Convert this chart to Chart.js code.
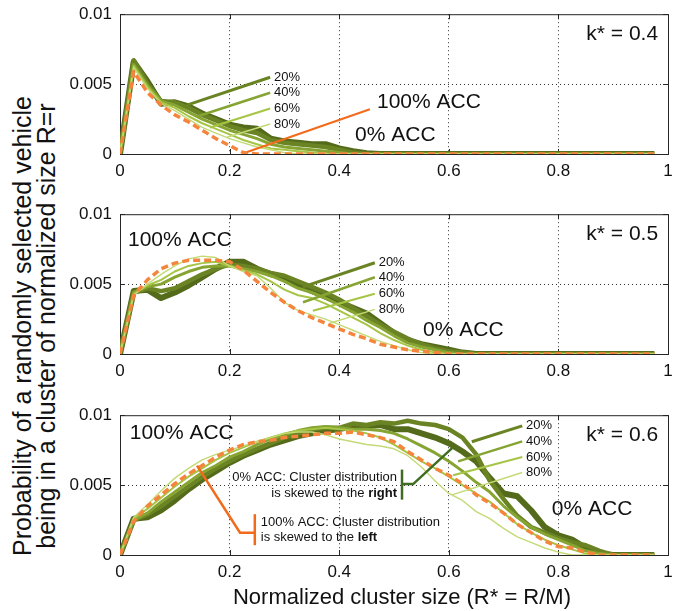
<!DOCTYPE html>
<html>
<head>
<meta charset="utf-8">
<title>Cluster size distribution</title>
<script src="https://cdn.jsdelivr.net/npm/chart.js@4.4.0/dist/chart.umd.min.js"></script>
<style>
  body { margin: 0; background: #fff; }
  #figure { position: relative; width: 690px; height: 611px; overflow: hidden; background: #fff; }
  #figure canvas { position: absolute; left: 0; }
  .axis-title { position: absolute; font-family: 'Liberation Sans', Arial, sans-serif; color: #111; text-align: center; white-space: nowrap; }
  #yTitle { left: -226px; top: 302px; width: 520px; height: 48px; font-size: 25px; line-height: 24px; transform: rotate(-90deg); }
  #xTitle { left: 102px; top: 584px; width: 600px; font-size: 22px; line-height: 26px; }
</style>
</head>
<body>
<div id="figure">
  <div id="yTitle" class="axis-title">Probability of a randomly selected vehicle<br>being in a cluster of normalized size R=r</div>
  <canvas id="panel04" width="690" height="189" style="top:-4px"></canvas>
  <canvas id="panel05" width="690" height="189" style="top:196px"></canvas>
  <canvas id="panel06" width="690" height="189" style="top:397px"></canvas>
  <div id="xTitle" class="axis-title">Normalized cluster size (R* = R/M)</div>
</div>

<script>
const FONT = "'Liberation Sans', Arial, sans-serif";

// normalized cluster size R* shared by every curve
const clusterSize = [0, 0.025, 0.05, 0.075, 0.1, 0.125, 0.15, 0.175, 0.2, 0.225,
  0.25, 0.275, 0.3, 0.325, 0.35, 0.375, 0.4, 0.425, 0.45, 0.475,
  0.5, 0.525, 0.55, 0.575, 0.6, 0.625, 0.65, 0.675, 0.7, 0.725,
  0.75, 0.775, 0.8, 0.825, 0.85, 0.875, 0.9, 0.925, 0.95, 0.975];

// k* = 0.4
const k04_acc0 = [0, .0066, .0052, .0036, .0037, .0034, .0029, .0025, .0021, .0019,
  .0018, .0011, .0009, .0008, .0007, .0007, .0004, .0002, .00005, 0,
  0, 0, 0, 0, 0, 0, 0, 0, 0, 0,
  0, 0, 0, 0, 0, 0, 0, 0, 0, 0];
const k04_acc20 = [0, .0067, .0050, .0038, .0037, .0033, .0028, .0024, .0020, .0017,
  .0015, .0010, .0008, .0007, .0006, .0005, .0003, .0001, 0, 0,
  0, 0, 0, 0, 0, 0, 0, 0, 0, 0,
  0, 0, 0, 0, 0, 0, 0, 0, 0, 0];
const k04_acc40 = [0, .0064, .0049, .0038, .0035, .0030, .0025, .0021, .0017, .0014,
  .0011, .0007, .0005, .0004, .0003, .0002, .0001, 0, 0, 0,
  0, 0, 0, 0, 0, 0, 0, 0, 0, 0,
  0, 0, 0, 0, 0, 0, 0, 0, 0, 0];
const k04_acc60 = [0, .0063, .0048, .0037, .0033, .0027, .0022, .0018, .0014, .0010,
  .0007, .0004, .0003, .0002, .0001, 0, 0, 0, 0, 0,
  0, 0, 0, 0, 0, 0, 0, 0, 0, 0,
  0, 0, 0, 0, 0, 0, 0, 0, 0, 0];
const k04_acc80 = [0, .0062, .0047, .0036, .0031, .0025, .0019, .0015, .0011, .0008,
  .0005, .0003, .0001, 0, 0, 0, 0, 0, 0, 0,
  0, 0, 0, 0, 0, 0, 0, 0, 0, 0,
  0, 0, 0, 0, 0, 0, 0, 0, 0, 0];
const k04_acc100 = [0, .0059, .0044, .0035, .0028, .0023, .0017, .0011, .0006, .0001,
  0, 0, 0, 0, 0, 0, 0, 0, 0, 0,
  0, 0, 0, 0, 0, 0, 0, 0, 0, 0,
  0, 0, 0, 0, 0, 0, 0, 0, 0, 0];

// k* = 0.5
const k05_acc0 = [0, .0045, .0046, .0040, .0044, .0049, .0055, .0061, .0066, .0066,
  .0061, .0057, .0055, .0050, .0045, .0041, .0037, .0033, .0029, .0022,
  .0015, .0010, .0007, .0005, .0003, .0001, 0, 0, 0, 0,
  0, 0, 0, 0, 0, 0, 0, 0, 0, 0];
const k05_acc20 = [0, .0044, .0047, .0045, .0047, .0052, .0057, .0061, .0064, .0063,
  .0061, .0058, .0056, .0052, .0048, .0044, .0039, .0033, .0027, .0021,
  .0016, .0011, .0007, .0004, .0002, .0001, 0, 0, 0, 0,
  0, 0, 0, 0, 0, 0, 0, 0, 0, 0];
const k05_acc40 = [0, .0044, .0048, .0050, .0055, .0059, .0062, .0063, .0063, .0061,
  .0059, .0056, .0052, .0047, .0044, .0040, .0035, .0030, .0024, .0019,
  .0013, .0008, .0005, .0003, .0001, 0, 0, 0, 0, 0,
  0, 0, 0, 0, 0, 0, 0, 0, 0, 0];
const k05_acc60 = [0, .0043, .0049, .0053, .0059, .0063, .0065, .0066, .0063, .0060,
  .0057, .0052, .0046, .0042, .0040, .0036, .0031, .0026, .0021, .0015,
  .0010, .0006, .0003, .0001, 0, 0, 0, 0, 0, 0,
  0, 0, 0, 0, 0, 0, 0, 0, 0, 0];
const k05_acc80 = [0, .0042, .0050, .0057, .0063, .0068, .0070, .0069, .0063, .0059,
  .0056, .0047, .0037, .0031, .0028, .0025, .0021, .0017, .0013, .0009,
  .0006, .0003, .0001, 0, 0, 0, 0, 0, 0, 0,
  0, 0, 0, 0, 0, 0, 0, 0, 0, 0];
const k05_acc100 = [0, .0042, .0053, .0061, .0065, .0067, .0067, .0067, .0066, .0060,
  .0052, .0044, .0037, .0031, .0026, .0022, .0018, .0014, .0011, .0007,
  .0005, .0003, .0002, .0001, 0, 0, 0, 0, 0, 0,
  0, 0, 0, 0, 0, 0, 0, 0, 0, 0];

// k* = 0.6
const k06_acc0 = [0, .0026, .0027, .0032, .0039, .0047, .0054, .0060, .0066, .0071,
  .0075, .0079, .0082, .0085, .0087, .0089, .0090, .0092, .0092, .0093,
  .0090, .0090, .0087, .0084, .0080, .0074, .0067, .0055, .0044, .0042,
  .0032, .0020, .0014, .0011, .0005, .0001, 0, 0, 0, 0];
const k06_acc20 = [0, .0025, .0029, .0035, .0042, .0049, .0056, .0062, .0067, .0072,
  .0076, .0080, .0084, .0087, .0090, .0091, .0091, .0094, .0093, .0095,
  .0094, .0096, .0094, .0093, .0090, .0084, .0072, .0053, .0040, .0028,
  .0020, .0016, .0012, .0009, .0007, .0003, 0, 0, 0, 0];
const k06_acc40 = [0, .0025, .0030, .0038, .0045, .0052, .0059, .0064, .0070, .0074,
  .0079, .0083, .0086, .0089, .0091, .0092, .0091, .0090, .0090, .0089,
  .0087, .0083, .0078, .0073, .0067, .0060, .0052, .0045, .0035, .0027,
  .0020, .0015, .0011, .0007, .0003, .0001, 0, 0, 0, 0];
const k06_acc60 = [0, .0026, .0033, .0041, .0049, .0056, .0062, .0068, .0073, .0077,
  .0081, .0084, .0087, .0089, .0090, .0091, .0090, .0089, .0087, .0084,
  .0079, .0073, .0067, .0062, .0056, .0050, .0044, .0038, .0030, .0022,
  .0016, .0011, .0007, .0004, .0001, 0, 0, 0, 0, 0];
const k06_acc80 = [0, .0027, .0036, .0046, .0055, .0062, .0068, .0072, .0075, .0078,
  .0081, .0084, .0087, .0088, .0088, .0086, .0083, .0081, .0079, .0078,
  .0076, .0071, .0063, .0053, .0044, .0039, .0031, .0026, .0019, .0013,
  .0009, .0005, .0002, 0, 0, 0, 0, 0, 0, 0];
const k06_acc100 = [0, .0024, .0035, .0043, .0051, .0058, .0064, .0070, .0075, .0079,
  .0081, .0082, .0084, .0085, .0086, .0087, .0087, .0088, .0086, .0084,
  .0081, .0074, .0068, .0062, .0057, .0051, .0043, .0037, .0030, .0022,
  .0016, .0010, .0006, .0005, .0002, 0, 0, 0, 0, 0];

// ACC penetration of each curve, listed bottom layer first
const accShares = ['0% ACC', '20%', '40%', '60%', '80%', '100% ACC'];
const xTicks = [0, 0.2, 0.4, 0.6, 0.8, 1];
const yTicks = [0, 0.005, 0.01];

// line look per ACC share (same order as accShares)
const lineStyles = [
  { color: '#556b1c', width: 6 },
  { color: '#6a8424', width: 4.5 },
  { color: '#86a432', width: 3 },
  { color: '#a6c545', width: 2 },
  { color: '#c3da75', width: 1.4 },
  { color: '#f5843c', width: 3.5, dash: [7, 4] }
];
const ORANGE = '#f26a1b';
const DARK_GREEN = '#3f6d22';

// thin leader from a curve to its percentage tag
function shareTags(anchors, tipX, tagYs) {
  const lines = anchors.map((p, i) => ({
    color: lineStyles[i + 1].color,
    width: [3, 2.5, 2, 1.5][i],
    path: [p, [tipX, tagYs[i]]]
  }));
  const texts = tagYs.map((y, i) => ({ text: accShares[i + 1], x: tipX + 0.007, y: y, size: 13 }));
  return { lines, texts };
}

const tags04 = shareTags([[0.122, 0.0035], [0.142, 0.0027], [0.164, 0.0019], [0.195, 0.0012]],
  0.274, [0.00549, 0.00438, 0.00326, 0.00215]);
const tags05 = shareTags([[0.334, 0.0048], [0.334, 0.0037], [0.352, 0.0031], [0.383, 0.0022]],
  0.465, [0.00653, 0.00549, 0.00431, 0.00319]);
const tags06 = shareTags([[0.642, 0.0081], [0.617, 0.0067], [0.608, 0.0057], [0.606, 0.0043]],
  0.734, [0.00924, 0.00813, 0.00701, 0.0059]);

const panels = [
  {
    id: 'panel04',
    series: [k04_acc0, k04_acc20, k04_acc40, k04_acc60, k04_acc80, k04_acc100],
    notes: {
      lines: tags04.lines.concat([
        { color: ORANGE, width: 2, path: [[0.232, 0.00014], [0.456, 0.0032]] }
      ]),
      texts: tags04.texts.concat([
        { text: '100% ACC', x: 0.469, y: 0.00368, size: 21 },
        { text: '0% ACC', x: 0.429, y: 0.00132, size: 21 },
        { text: 'k* = 0.4', x: 0.982, y: 0.0086, size: 21, align: 'right' }
      ])
    }
  },
  {
    id: 'panel05',
    series: [k05_acc0, k05_acc20, k05_acc40, k05_acc60, k05_acc80, k05_acc100],
    notes: {
      lines: tags05.lines,
      texts: tags05.texts.concat([
        { text: '100% ACC', x: 0.0146, y: 0.00813, size: 21 },
        { text: '0% ACC', x: 0.553, y: 0.00167, size: 21 },
        { text: 'k* = 0.5', x: 0.982, y: 0.0086, size: 21, align: 'right' }
      ])
    }
  },
  {
    id: 'panel06',
    series: [k06_acc0, k06_acc20, k06_acc40, k06_acc60, k06_acc80, k06_acc100],
    notes: {
      lines: tags06.lines.concat([
        // brackets pointing at the skew explanations
        { color: ORANGE, width: 2.5, path: [[0.1405, 0.00639], [0.219, 0.0016], [0.246, 0.0016]] },
        { color: ORANGE, width: 2.5, path: [[0.246, 0.00292], [0.246, 0.0007]] },
        { color: DARK_GREEN, width: 2.5, path: [[0.606, 0.00764], [0.535, 0.00507], [0.5146, 0.00507]] },
        { color: DARK_GREEN, width: 2.5, path: [[0.5146, 0.00611], [0.5146, 0.00396]] }
      ]),
      texts: tags06.texts.concat([
        { text: '100% ACC', x: 0.018, y: 0.00868, size: 21 },
        { text: '0% ACC', x: 0.788, y: 0.00326, size: 21 },
        { text: 'k* = 0.6', x: 0.982, y: 0.0086, size: 21, align: 'right' },
        { text: '0% ACC: Cluster distribution', x: 0.5055, y: 0.00556, size: 13, align: 'right' },
        { parts: [['is skewed to the ', false], ['right', true]], x: 0.5055, y: 0.00438, size: 13, align: 'right' },
        { text: '100% ACC: Cluster distribution', x: 0.257, y: 0.00236, size: 13 },
        { parts: [['is skewed to the ', false], ['left', true]], x: 0.257, y: 0.00125, size: 13 }
      ])
    }
  }
];

// box with inward ticks under the curves, annotations over them
const notesPlugin = {
  id: 'notes',
  beforeDatasetsDraw(chart) {
    const { ctx, chartArea: a, scales } = chart;
    ctx.save();
    ctx.strokeStyle = '#262626';
    ctx.lineWidth = 1;
    ctx.strokeRect(a.left + 0.5, a.top + 0.5, a.right - a.left, a.bottom - a.top);
    ctx.beginPath();
    xTicks.forEach(v => {
      const x = Math.round(scales.x.getPixelForValue(v)) + 0.5;
      ctx.moveTo(x, a.bottom); ctx.lineTo(x, a.bottom - 5);
      ctx.moveTo(x, a.top); ctx.lineTo(x, a.top + 5);
    });
    yTicks.forEach(v => {
      const y = Math.round(scales.y.getPixelForValue(v)) + 0.5;
      ctx.moveTo(a.left, y); ctx.lineTo(a.left + 5, y);
      ctx.moveTo(a.right, y); ctx.lineTo(a.right - 5, y);
    });
    ctx.stroke();
    ctx.restore();
  },
  afterDatasetsDraw(chart, args, opts) {
    const { ctx, scales: { x, y } } = chart;
    const px = v => x.getPixelForValue(v);
    const py = v => y.getPixelForValue(v);
    ctx.save();
    (opts.lines || []).forEach(l => {
      ctx.beginPath();
      ctx.strokeStyle = l.color;
      ctx.lineWidth = l.width;
      ctx.lineJoin = 'miter';
      l.path.forEach((p, i) => {
        if (i === 0) ctx.moveTo(px(p[0]), py(p[1]));
        else ctx.lineTo(px(p[0]), py(p[1]));
      });
      ctx.stroke();
    });
    (opts.texts || []).forEach(t => {
      const parts = t.parts || [[t.text, false]];
      const fontOf = bold => `${bold ? 'bold ' : ''}${t.size}px ${FONT}`;
      let width = 0;
      parts.forEach(([s, b]) => { ctx.font = fontOf(b); width += ctx.measureText(s).width; });
      let tx = px(t.x);
      if (t.align === 'right') tx -= width;
      ctx.textAlign = 'left';
      ctx.textBaseline = 'middle';
      ctx.fillStyle = '#111';
      parts.forEach(([s, b]) => {
        ctx.font = fontOf(b);
        ctx.fillText(s, tx, py(t.y));
        tx += ctx.measureText(s).width;
      });
    });
    ctx.restore();
  }
};

// dotted grid, hidden on the box edges
function gridColor(edges) {
  return c => (c.tick && edges.includes(c.tick.value)) ? 'rgba(0,0,0,0)' : '#333';
}

function buildPanel(panel) {
  // bottom layer first in accShares, Chart.js paints dataset 0 last
  const datasets = accShares.map((name, i) => {
    const style = lineStyles[i];
    return {
      label: name,
      data: clusterSize.map((x, j) => ({ x: x, y: panel.series[i][j] })),
      borderColor: style.color,
      borderWidth: style.width,
      borderDash: style.dash || [],
      borderJoinStyle: 'round',
      pointRadius: 0,
      tension: 0,
      fill: false
    };
  }).reverse();

  return new Chart(document.getElementById(panel.id), {
    type: 'line',
    data: { datasets },
    options: {
      responsive: false,
      animation: false,
      devicePixelRatio: 1,
      layout: { padding: { top: 14, right: 22, bottom: 0, left: 0 } },
      plugins: {
        legend: { display: false },
        tooltip: { enabled: false },
        notes: panel.notes
      },
      scales: {
        x: {
          type: 'linear',
          min: 0,
          max: 1,
          afterFit: s => { s.height = 31; },
          afterBuildTicks: s => { s.ticks = xTicks.map(v => ({ value: v })); },
          ticks: {
            padding: 7,
            maxRotation: 0,
            color: '#111',
            font: { family: FONT, size: 17 },
            callback: v => String(+v.toFixed(2))
          },
          grid: { color: gridColor([0, 1]), lineWidth: 1, drawTicks: false },
          border: { display: false, dash: [1, 3] }
        },
        y: {
          type: 'linear',
          min: 0,
          max: 0.01,
          afterFit: s => { s.width = 120; },
          afterBuildTicks: s => { s.ticks = yTicks.map(v => ({ value: v })); },
          ticks: {
            padding: 8,
            color: '#111',
            font: { family: FONT, size: 17 },
            callback: v => String(+v.toFixed(3))
          },
          grid: { color: gridColor([0, 0.01]), lineWidth: 1, drawTicks: false },
          border: { display: false, dash: [1, 3] }
        }
      }
    },
    plugins: [notesPlugin]
  });
}

document.addEventListener('DOMContentLoaded', function() {
  panels.forEach(buildPanel);
});
</script>
</body>
</html>
